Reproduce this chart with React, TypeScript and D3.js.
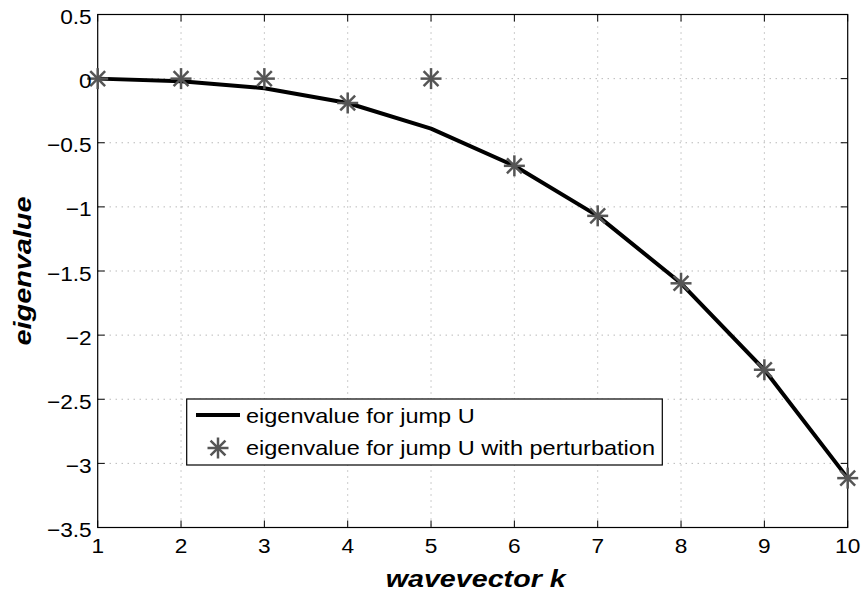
import React from "react";
import * as d3 from "d3";

const kValues = [1, 2, 3, 4, 5, 6, 7, 8, 9, 10];
const lineValues = [0, -0.02, -0.075, -0.19, -0.39, -0.68, -1.07, -1.596, -2.27, -3.115];
const starValues = [0, 0, 0, -0.19, 0, -0.68, -1.07, -1.596, -2.27, -3.115];
const xTicks = [1, 2, 3, 4, 5, 6, 7, 8, 9, 10];
const yTicks = [0.5, 0, -0.5, -1, -1.5, -2, -2.5, -3, -3.5];
const lineLabel = "eigenvalue for jump U";
const starLabel = "eigenvalue for jump U with perturbation";

const W = 863, H = 592;
const L = 97.7, R = 847.7, T = 14.5, B = 527.5;

function Star({ x, y, r = 10.5 }: { x: number; y: number; r?: number }) {
  const s = r * Math.SQRT1_2;
  return (
    <g stroke="#555" strokeWidth={2.5} strokeLinecap="butt">
      <line x1={x - r} y1={y} x2={x + r} y2={y} />
      <line x1={x} y1={y - r} x2={x} y2={y + r} />
      <line x1={x - s} y1={y - s} x2={x + s} y2={y + s} />
      <line x1={x - s} y1={y + s} x2={x + s} y2={y - s} />
    </g>
  );
}

function T2({
  x, y, sx, anchor = "start", size, children, bold = false, rot = 0,
}: {
  x: number; y: number; sx: number; anchor?: string; size: number; children: React.ReactNode; bold?: boolean; rot?: number;
}) {
  return (
    <text
      transform={`translate(${x},${y}) rotate(${rot}) scale(${sx},1)`}
      textAnchor={anchor}
      fontSize={size}
      fontWeight={bold ? "bold" : "normal"}
      fontStyle={bold ? "italic" : "normal"}
      fill="#000"
    >
      {children}
    </text>
  );
}

export default function App() {
  const x = d3.scaleLinear().domain([1, 10]).range([L, R]);
  const y = d3.scaleLinear().domain([-3.5, 0.5]).range([B, T]);
  const line = d3.line<number>().x((_, i) => x(kValues[i])).y((d) => y(d));
  const font = "'Liberation Sans', Arial, Helvetica, sans-serif";
  const legX = 186.7, legY = 399, legW = 475.6, legH = 66;
  return (
    <svg width={W} height={H} style={{ position: "absolute", left: 0, top: 0 }} fontFamily={font}>
      <rect x={0} y={0} width={W} height={H} fill="#fff" />
      <g stroke="#999" strokeWidth={1} strokeDasharray="1,5">
        {xTicks.slice(1, -1).map((t) => (
          <line key={"gx" + t} x1={x(t)} x2={x(t)} y1={T} y2={B} />
        ))}
        {yTicks.slice(1, -1).map((t) => (
          <line key={"gy" + t} x1={L} x2={R} y1={y(t)} y2={y(t)} />
        ))}
      </g>
      <g stroke="#000" strokeWidth={1}>
        {xTicks.map((t) => (
          <g key={"tx" + t}>
            <line x1={x(t)} x2={x(t)} y1={B} y2={B - 7} />
            <line x1={x(t)} x2={x(t)} y1={T} y2={T + 7} />
          </g>
        ))}
        {yTicks.map((t) => (
          <g key={"ty" + t}>
            <line x1={L} x2={L + 7} y1={y(t)} y2={y(t)} />
            <line x1={R} x2={R - 7} y1={y(t)} y2={y(t)} />
          </g>
        ))}
      </g>
      <rect x={L} y={T} width={R - L} height={B - T} fill="none" stroke="#000" strokeWidth={1.2} />
      <path d={line(lineValues) || ""} fill="none" stroke="#000" strokeWidth={4} strokeLinejoin="round" />
      {starValues.map((v, i) => (
        <Star key={"s" + i} x={x(kValues[i])} y={y(v)} />
      ))}
      {xTicks.map((t) => (
        <T2 key={"lx" + t} x={x(t)} y={553} sx={1.08} anchor="middle" size={21}>
          {t}
        </T2>
      ))}
      {yTicks.map((t) => (
        <T2 key={"ly" + t} x={91.7} y={y(t) + 9.5} sx={1.08} anchor="end" size={21}>
          {t < 0 ? "\u2212" + Math.abs(t) : String(t)}
        </T2>
      ))}
      <T2 x={(L + R) / 2 + 3} y={587} sx={1.17} anchor="middle" size={24.5} bold>
        wavevector k
      </T2>
      <T2 x={31} y={(T + B) / 2} sx={1.2} anchor="middle" size={24} bold rot={-90}>
        eigenvalue
      </T2>
      <rect x={legX} y={legY} width={legW} height={legH} fill="#fff" stroke="#000" strokeWidth={1.2} />
      <line x1={196} x2={240} y1={415} y2={415} stroke="#000" strokeWidth={4} />
      <Star x={218} y={448} />
      <T2 x={246} y={423} sx={1.12} size={21}>
        {lineLabel}
      </T2>
      <T2 x={246} y={455} sx={1.12} size={21}>
        {starLabel}
      </T2>
    </svg>
  );
}
